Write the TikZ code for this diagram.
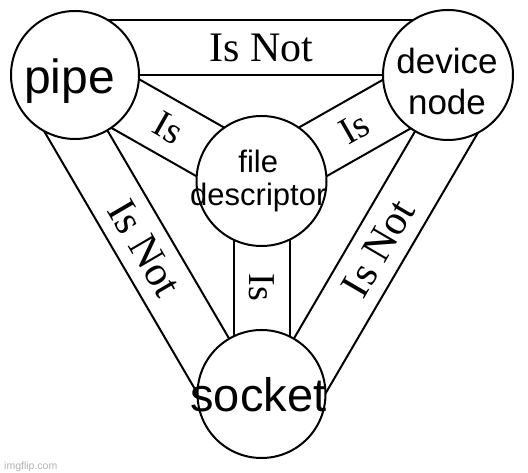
\documentclass[tikz,border=0pt]{standalone}
\usepackage{fontspec}
\setmainfont{Liberation Serif}
\newfontfamily\labelsans{Liberation Sans}
\usetikzlibrary{calc,backgrounds}
\definecolor{wmgray}{RGB}{178,178,178}
\begin{document}
\begin{tikzpicture}[x=1pt,y=1pt,
  ring/.style={circle,draw,line width=2pt,fill=white,inner sep=0pt,outer sep=0pt},
  bandline/.style={line width=2pt},
  rel/.style={font=\fontsize{42}{42}\selectfont, inner sep=0pt},
  isrel/.style={font=\fontsize{38}{38}\selectfont, inner sep=0pt},
  word/.style={inner sep=0pt, anchor=base}]
\useasboundingbox (0,0) rectangle (528,473);
% circles
\node[ring,minimum size=128pt] (P) at (75,398) {};
\node[ring,minimum size=130pt] (D) at (448,398) {};
\node[ring,minimum size=130pt] (F) at (261.5,292) {};
\node[ring,minimum size=128pt] (S) at (261.5,79) {};
% bands
\begin{scope}[on background layer]
\fill[white] (0,0) rectangle (528,473);
% pipe - device
\draw[bandline] ($(P)!55pt!90:(D)$) -- ($(D)!55pt!-90:(P)$);
\draw[bandline] (P.center) -- (D.center);
% pipe - socket
\draw[bandline] ($(P)!55pt!-90:(S)$) -- ($(S)!55pt!90:(P)$);
\draw[bandline] (P.center) -- (S.center);
% device - socket
\draw[bandline] ($(D)!55pt!90:(S)$) -- ($(S)!55pt!-90:(D)$);
\draw[bandline] (D.center) -- (S.center);
% pipe - fd
\draw[bandline] ($(P)!28pt!90:(F)$) -- ($(F)!28pt!-90:(P)$);
\draw[bandline] ($(P)!28pt!-90:(F)$) -- ($(F)!28pt!90:(P)$);
% device - fd
\draw[bandline] ($(D)!28pt!90:(F)$) -- ($(F)!28pt!-90:(D)$);
\draw[bandline] ($(D)!28pt!-90:(F)$) -- ($(F)!28pt!90:(D)$);
% fd - socket
\draw[bandline] ($(F)!28pt!90:(S)$) -- ($(S)!28pt!-90:(F)$);
\draw[bandline] ($(F)!28pt!-90:(S)$) -- ($(S)!28pt!90:(F)$);
\end{scope}
% band labels
\path ($(P)!27.5pt!90:(D)$) -- ($(D)!27.5pt!-90:(P)$) node[rel,midway] (l1) {Is Not};
\path ($(P)!27.5pt!-90:(S)$) -- ($(S)!27.5pt!90:(P)$) node[rel,midway,sloped,allow upside down] (l2) {Is Not};
\path ($(S)!27.5pt!-90:(D)$) -- ($(D)!27.5pt!90:(S)$) node[rel,midway,sloped,allow upside down] (l3) {Is Not};
\path (P.center) -- (F.center) node[isrel,midway,sloped,allow upside down] (l4) {Is};
\path (F.center) -- (D.center) node[isrel,midway,sloped,allow upside down] (l5) {Is};
\path (F.center) -- (S.center) node[isrel,midway,sloped,allow upside down] (l6) {Is};
% circle texts
\node[word,font=\labelsans\fontsize{48}{48}\selectfont] (tp) at (69.5,379.7) {pipe};
\node[word,font=\labelsans\fontsize{35}{35}\selectfont] (td1) at (447,399) {device};
\node[word,font=\labelsans\fontsize{35}{35}\selectfont] (td2) at (447,358) {node};
\node[word,font=\labelsans\fontsize{31}{31}\selectfont] (tf1) at (258.3,300.7) {file};
\node[word,font=\labelsans\fontsize{31}{31}\selectfont] (tf2) at (258.3,267.3) {descriptor};
\node[word,font=\labelsans\fontsize{47}{47}\selectfont] (ts) at (258.3,61.3) {socket};
% watermark
\node[inner sep=0pt,anchor=base west,text=wmgray,font=\labelsans\fontsize{10.5}{10.5}\selectfont] (wm) at (4,3) {imgflip.com};
\end{tikzpicture}
\end{document}
